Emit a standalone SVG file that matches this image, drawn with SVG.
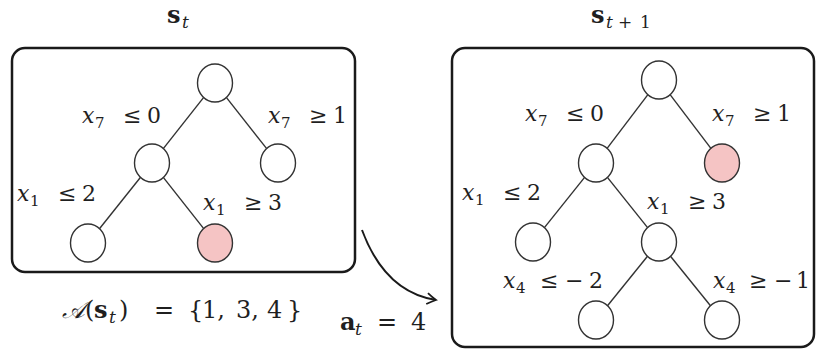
<svg xmlns="http://www.w3.org/2000/svg" width="817" height="354" viewBox="0 0 817 354">
<defs>
<style>
.box{fill:none;stroke:#1a1a1a;stroke-width:2.5}
.node{fill:#fff;stroke:#333;stroke-width:1.4}
.hl{fill:#f5c4c4;stroke:#333;stroke-width:1.4}
.edge{stroke:#333;stroke-width:1.4;fill:none}
text{font-family:"DejaVu Serif","Liberation Serif",serif;font-size:22px;fill:#1f1f1f}
.v{font-style:italic}
.sub{font-size:15px}
.ts{font-size:17px}
.b{font-weight:bold}
.big{font-size:24px}
</style>
<marker id="arr" markerWidth="14" markerHeight="14" refX="10" refY="7" orient="auto" markerUnits="userSpaceOnUse">
<path d="M1,1.5 Q6,5 10,7 Q6,9 1,12.5" fill="none" stroke="#1a1a1a" stroke-width="1.8"/>
</marker>
</defs>

<rect class="box" x="12" y="48" width="343" height="224" rx="13"/>
<rect class="box" x="452" y="48" width="362" height="299" rx="13"/>

<g id="connectors">
<line class="edge" x1="203.9" y1="97.1" x2="163.1" y2="148.9"/>
<line class="edge" x1="226.1" y1="97.1" x2="266.9" y2="148.9"/>
<line class="edge" x1="140.75" y1="177.06" x2="99.25" y2="228.94"/>
<line class="edge" x1="163.1" y1="177.1" x2="203.9" y2="228.9"/>
<line class="edge" x1="648.1" y1="94.3" x2="606.9" y2="148.7"/>
<line class="edge" x1="669.9" y1="94.3" x2="711.1" y2="148.7"/>
<line class="edge" x1="584.8" y1="177.1" x2="544.2" y2="227.9"/>
<line class="edge" x1="607.2" y1="177.1" x2="647.8" y2="227.9"/>
<line class="edge" x1="647.7" y1="256" x2="607.3" y2="306"/>
<line class="edge" x1="670.3" y1="256" x2="710.7" y2="306"/>
<path d="M362,230 Q385,292 436,300" fill="none" stroke="#1a1a1a" stroke-width="2" marker-end="url(#arr)"/>
</g>

<g id="left-root"><ellipse class="node" cx="215" cy="83" rx="17.5" ry="19"/></g>
<g id="left-l"><ellipse class="node" cx="152" cy="163" rx="17.5" ry="19"/></g>
<g id="left-r"><ellipse class="node" cx="278" cy="163" rx="17.5" ry="19"/></g>
<g id="left-ll"><ellipse class="node" cx="88" cy="243" rx="17.5" ry="19"/></g>
<g id="left-lr"><ellipse class="hl" cx="215" cy="243" rx="17.5" ry="19"/></g>

<g id="right-root"><ellipse class="node" cx="659" cy="80" rx="17.5" ry="19"/></g>
<g id="right-l"><ellipse class="node" cx="596" cy="163" rx="17.5" ry="19"/></g>
<g id="right-r"><ellipse class="hl" cx="722" cy="163" rx="17.5" ry="19"/></g>
<g id="right-ll"><ellipse class="node" cx="533" cy="242" rx="17.5" ry="19"/></g>
<g id="right-lr"><ellipse class="node" cx="659" cy="242" rx="17.5" ry="19"/></g>
<g id="right-lrl"><ellipse class="node" cx="596" cy="320" rx="17.5" ry="19"/></g>
<g id="right-lrr"><ellipse class="node" cx="722" cy="320" rx="17.5" ry="19"/></g>

<g id="labels">
<text x="82" y="123"><tspan class="v">x</tspan><tspan class="sub" x="95" dy="5">7</tspan><tspan x="123" dy="-5">≤</tspan><tspan x="147">0</tspan></text>
<text x="268" y="123"><tspan class="v">x</tspan><tspan class="sub" x="281" dy="5">7</tspan><tspan x="309" dy="-5">≥</tspan><tspan x="333">1</tspan></text>
<text x="17" y="201"><tspan class="v">x</tspan><tspan class="sub" x="30" dy="5">1</tspan><tspan x="58" dy="-5">≤</tspan><tspan x="82">2</tspan></text>
<text x="203" y="210"><tspan class="v">x</tspan><tspan class="sub" x="216" dy="5">1</tspan><tspan x="244" dy="-5">≥</tspan><tspan x="268">3</tspan></text>

<text x="525" y="121"><tspan class="v">x</tspan><tspan class="sub" x="538" dy="5">7</tspan><tspan x="566" dy="-5">≤</tspan><tspan x="590">0</tspan></text>
<text x="712" y="121"><tspan class="v">x</tspan><tspan class="sub" x="725" dy="5">7</tspan><tspan x="753" dy="-5">≥</tspan><tspan x="777">1</tspan></text>
<text x="462" y="200"><tspan class="v">x</tspan><tspan class="sub" x="475" dy="5">1</tspan><tspan x="503" dy="-5">≤</tspan><tspan x="527">2</tspan></text>
<text x="647" y="209"><tspan class="v">x</tspan><tspan class="sub" x="660" dy="5">1</tspan><tspan x="688" dy="-5">≥</tspan><tspan x="712">3</tspan></text>
<text x="503" y="288"><tspan class="v">x</tspan><tspan class="sub" x="516" dy="5">4</tspan><tspan x="540" dy="-5">≤</tspan><tspan x="565">−</tspan><tspan x="589">2</tspan></text>
<text x="713" y="288"><tspan class="v">x</tspan><tspan class="sub" x="726" dy="5">4</tspan><tspan x="749" dy="-5">≥</tspan><tspan x="774">−</tspan><tspan x="796">1</tspan></text>

<text class="big" x="167" y="23"><tspan class="b">s</tspan><tspan class="v ts" x="182" dy="5">t</tspan></text>
<text class="big" x="591" y="23"><tspan class="b">s</tspan><tspan class="v ts" x="606" dy="5">t</tspan><tspan class="ts" x="618">+</tspan><tspan class="ts" x="640">1</tspan></text>

<text class="big" x="62" y="318"><tspan class="v">𝒜</tspan><tspan x="85">(</tspan><tspan class="b" x="94">s</tspan><tspan class="v ts" x="109" dy="5">t</tspan><tspan x="119" dy="-5">)</tspan><tspan x="154">=</tspan><tspan x="188">{</tspan><tspan x="202">1,</tspan><tspan x="236">3,</tspan><tspan x="267">4</tspan><tspan x="287">}</tspan></text>
<text class="big" x="340" y="330"><tspan class="b">a</tspan><tspan class="v ts" x="355" dy="5">t</tspan><tspan x="377" dy="-5">=</tspan><tspan x="411">4</tspan></text>
</g>
</svg>
